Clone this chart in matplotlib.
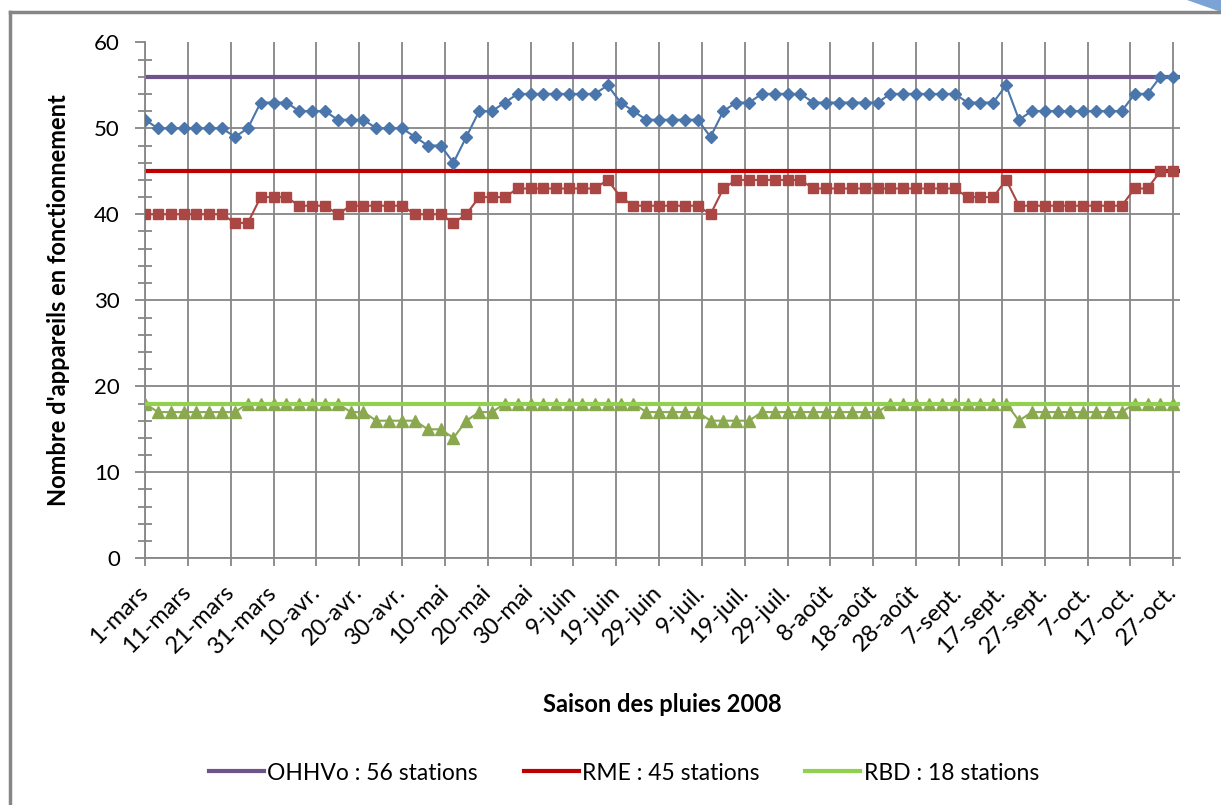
import matplotlib.pyplot as plt
from matplotlib.lines import Line2D
from matplotlib.patches import Polygon
import pandas as pd
import numpy as np

plt.rcParams['font.family'] = ['Lato', 'DejaVu Sans']

# releves tous les 3 jours, du 1er mars au 27 octobre 2008
dates = pd.date_range('2008-03-01', '2008-10-27', freq='3D')

ohhvo = [51, 50, 50, 50, 50, 50, 50, 49, 50, 53, 53, 53, 52, 52, 52, 51, 51, 51, 50, 50, 50, 49, 48, 48, 46, 49, 52,
         52, 53, 54, 54, 54, 54, 54, 54, 54, 55, 53, 52, 51, 51, 51, 51, 51, 49, 52, 53, 53, 54, 54, 54, 54, 53, 53, 53,
         53, 53, 53, 54, 54, 54, 54, 54, 54, 53, 53, 53, 55, 51, 52, 52, 52, 52, 52, 52, 52, 52, 54, 54, 56, 56]
rme = [40, 40, 40, 40, 40, 40, 40, 39, 39, 42, 42, 42, 41, 41, 41, 40, 41, 41, 41, 41, 41, 40, 40, 40, 39, 40, 42,
       42, 42, 43, 43, 43, 43, 43, 43, 43, 44, 42, 41, 41, 41, 41, 41, 41, 40, 43, 44, 44, 44, 44, 44, 44, 43, 43, 43,
       43, 43, 43, 43, 43, 43, 43, 43, 43, 42, 42, 42, 44, 41, 41, 41, 41, 41, 41, 41, 41, 41, 43, 43, 45, 45]
rbd = [18, 17, 17, 17, 17, 17, 17, 17, 18, 18, 18, 18, 18, 18, 18, 18, 17, 17, 16, 16, 16, 16, 15, 15, 14, 16, 17,
       17, 18, 18, 18, 18, 18, 18, 18, 18, 18, 18, 18, 17, 17, 17, 17, 17, 16, 16, 16, 16, 17, 17, 17, 17, 17, 17, 17,
       17, 17, 17, 18, 18, 18, 18, 18, 18, 18, 18, 18, 18, 16, 17, 17, 17, 17, 17, 17, 17, 17, 18, 18, 18, 18]

# nombre total de stations par reseau
total_ohhvo = 56
total_rme = 45
total_rbd = 18

tick_dates = pd.date_range('2008-03-01', '2008-10-27', freq='10D')
tick_labels = ['1-mars', '11-mars', '21-mars', '31-mars', '10-avr.', '20-avr.', '30-avr.', '10-mai', '20-mai',
               '30-mai', '9-juin', '19-juin', '29-juin', '9-juil.', '19-juil.', '29-juil.', '8-août', '18-août',
               '28-août', '7-sept.', '17-sept.', '27-sept.', '7-oct.', '17-oct.', '27-oct.']

grey = '#868686'

fig = plt.figure(figsize=(12.21, 8.05), dpi=100)
W, H = 1221, 805
ax = fig.add_axes([145 / W, 1 - 558.3 / H, (1180 - 145) / W, (558.3 - 42.3) / H])

l1 = ax.axhline(total_ohhvo, color='#6E548D', lw=3, zorder=2, label='OHHVo : 56 stations')
l2 = ax.axhline(total_rme, color='#C00000', lw=3, zorder=2, label='RME : 45 stations')
ax.plot(dates, ohhvo, color='#4A76AC', lw=1.5, marker='D', ms=6.5, zorder=3)
ax.plot(dates, rme, color='#AA4643', lw=1.5, marker='s', ms=7.5, zorder=3)
ax.plot(dates, rbd, color='#8AA84E', lw=1.5, marker='^', ms=8, zorder=3)
l3 = ax.axhline(total_rbd, color='#92D050', lw=3, zorder=4, label='RBD : 18 stations')

ax.set_xlim(dates[0], dates[-1] + pd.Timedelta(hours=38))
ax.set_ylim(0, 60)
ax.set_yticks(np.arange(0, 61, 10))
ax.set_yticks(np.arange(0, 61, 2), minor=True)
ax.set_xticks(tick_dates)
ax.set_xticklabels(tick_labels, rotation=45, ha='right', va='center', rotation_mode='anchor')

for s in ['top', 'right']:
    ax.spines[s].set_visible(False)
for s in ['left', 'bottom']:
    ax.spines[s].set_color(grey)
    ax.spines[s].set_linewidth(1.3)

ax.grid(True, which='major', color=grey, lw=1.3, zorder=0)
ax.get_ygridlines()[-1].set_visible(False)
ax.set_axisbelow(True)

ax.tick_params(axis='y', which='major', direction='out', length=7, width=1.3, color=grey, labelsize=16, pad=11)
ax.tick_params(axis='y', which='minor', direction='inout', length=10, width=1.3, color=grey)
ax.tick_params(axis='x', which='major', direction='out', length=6, width=1.3, color=grey, labelsize=17, pad=16)

ax.set_ylabel("Nombre d'appareils en fonctionnement", fontsize=17, fontweight='bold')
ax.yaxis.set_label_coords(-0.072, 0.5)
ax.set_xlabel('Saison des pluies 2008', fontsize=17, fontweight='bold')
ax.xaxis.set_label_coords(0.5, -0.262)

fig.legend(handles=[l1, l2, l3], loc='center', bbox_to_anchor=(624 / W, 1 - 773 / H), ncol=3,
           frameon=False, fontsize=16.5, handlelength=2.4, handletextpad=0.15, columnspacing=2.0)

# cadre de la zone de graphique
fig.add_artist(Line2D([10 / W, 1], [1 - 12 / H, 1 - 12 / H], color=grey, lw=2.5))
fig.add_artist(Line2D([10 / W, 10 / W], [0, 1 - 12 / H], color=grey, lw=2.5))
fig.add_artist(Polygon([[1187 / W, 1], [1, 1], [1, 1 - 12 / H]], closed=True, color='#7BA3D6', lw=0))

fig.savefig('out.png', dpi=100)
